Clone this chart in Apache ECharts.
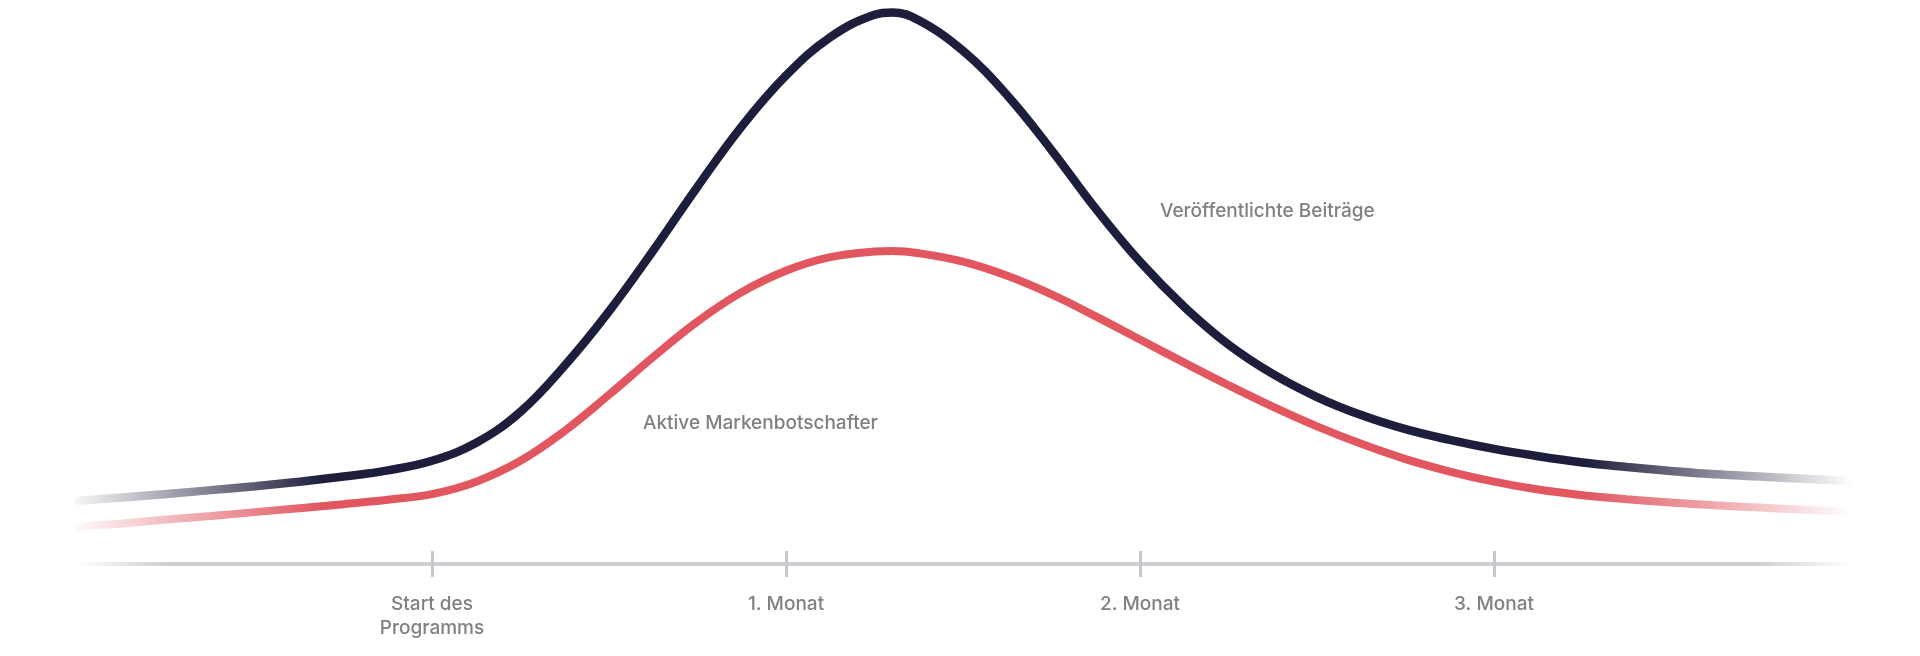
<!DOCTYPE html>
<html>
<head>
<meta charset="utf-8">
<style>
  html, body { margin: 0; padding: 0; background: #fff; }
  #main { width: 1920px; height: 656px; }
</style>
<script src="https://cdn.jsdelivr.net/npm/echarts@6/dist/echarts.min.js"></script>
</head>
<body>
<div id="main"></div>
<script>
// months since programme start (-1 .. 4), extra sample at the peak
const months = [
  -1, -0.875, -0.75, -0.625, -0.5, -0.375, -0.25, -0.125,
  0, 0.125, 0.25, 0.375, 0.5, 0.625, 0.75, 0.875,
  1, 1.125, 1.25, 1.3, 1.375, 1.5, 1.625, 1.75, 1.875,
  2, 2.125, 2.25, 2.375, 2.5, 2.625, 2.75, 2.875,
  3, 3.125, 3.25, 3.375, 3.5, 3.625, 3.75, 3.875, 4
];
// Veröffentlichte Beiträge (relative level)
const beitraege = [
  11.2, 11.8, 12.4, 13.1, 13.8, 14.6, 15.5, 16.6,
  18.3, 21.5, 27.0, 35.2, 44.8, 55.6, 66.9, 77.6,
  86.6, 93.4, 97.4, 97.8, 96.4, 91.0, 83.1, 73.4, 63.0,
  53.6, 45.6, 38.9, 33.7, 29.6, 26.4, 23.9, 22.0,
  20.4, 19.1, 18.0, 17.2, 16.5, 15.9, 15.5, 15.1, 14.7
];
// Aktive Markenbotschafter (relative level)
const botschafter = [
  6.6, 7.2, 7.9, 8.5, 9.2, 9.9, 10.6, 11.4,
  12.4, 14.6, 18.3, 23.6, 30.0, 36.7, 43.0, 48.2,
  52.0, 54.4, 55.4, 55.5, 55.1, 53.6, 51.1, 47.8, 43.9,
  39.8, 35.7, 31.7, 27.9, 24.4, 21.3, 18.6, 16.4,
  14.6, 13.2, 12.2, 11.5, 10.9, 10.4, 10.0, 9.6, 9.3
];
const tickValues = [0, 1, 2, 3];
const tickLabels = ["Start des\nProgramms", "1. Monat", "2. Monat", "3. Monat"];

const pairs = (vals) => months.map((m, i) => [m, vals[i]]);

// fade in on the left, fade out on the right
const fade = (r, g, b) =>
  new echarts.graphic.LinearGradient(0, 0, 1, 0, [
    { offset: 0, color: `rgba(${r},${g},${b},0.03)` },
    { offset: 0.14, color: `rgba(${r},${g},${b},1)` },
    { offset: 0.85, color: `rgba(${r},${g},${b},1)` },
    { offset: 1, color: `rgba(${r},${g},${b},0)` },
  ]);

const labelFont = { fontFamily: "Inter", fontSize: 19, fontWeight: 500 };

const myChart = echarts.init(document.getElementById("main"));

const option = {
  animation: false,
  grid: { left: 78, right: 72, top: 0, bottom: 92 },
  xAxis: [
    {
      type: "value",
      min: -1,
      max: 4,
      interval: 1,
      splitLine: { show: false },
      axisLine: {
        lineStyle: {
          width: 4,
          color: new echarts.graphic.LinearGradient(0, 0, 1, 0, [
            { offset: 0, color: "rgba(205,207,211,0)" },
            { offset: 0.05, color: "rgba(205,207,211,1)" },
            { offset: 0.95, color: "rgba(205,207,211,1)" },
            { offset: 1, color: "rgba(205,207,211,0)" },
          ]),
        },
      },
      axisTick: {
        customValues: tickValues,
        length: 13,
        lineStyle: { color: "#c6c8cc", width: 3 },
      },
      axisLabel: {
        customValues: tickValues,
        margin: 28,
        ...labelFont,
        lineHeight: 24,
        color: "#808082",
        formatter: (v) => tickLabels[tickValues.indexOf(v)] || "",
      },
    },
    {
      type: "value",
      position: "bottom",
      min: -1,
      max: 4,
      interval: 1,
      splitLine: { show: false },
      axisLine: { show: false },
      axisLabel: { show: false },
      axisTick: {
        customValues: tickValues,
        inside: true,
        length: 13,
        lineStyle: { color: "#c6c8cc", width: 3 },
      },
    },
  ],
  yAxis: {
    type: "value",
    min: 0,
    max: 100,
    show: false,
  },
  series: [
    {
      name: "Veröffentlichte Beiträge",
      type: "line",
      data: pairs(beitraege),
      smooth: 0.4,
      showSymbol: false,
      lineStyle: { width: 8.5, color: fade(29, 30, 60), cap: "round" },
    },
    {
      name: "Aktive Markenbotschafter",
      type: "line",
      data: pairs(botschafter),
      smooth: 0.4,
      showSymbol: false,
      lineStyle: { width: 8, color: fade(225, 86, 95), cap: "round" },
    },
  ],
  graphic: [
    {
      type: "text",
      left: 1160,
      top: 202,
      style: { text: "Veröffentlichte Beiträge", ...labelFont, fill: "#808082" },
    },
    {
      type: "text",
      left: 643,
      top: 414,
      style: { text: "Aktive Markenbotschafter", ...labelFont, fill: "#808082" },
    },
  ],
};

myChart.setOption(option);
</script>
</body>
</html>
